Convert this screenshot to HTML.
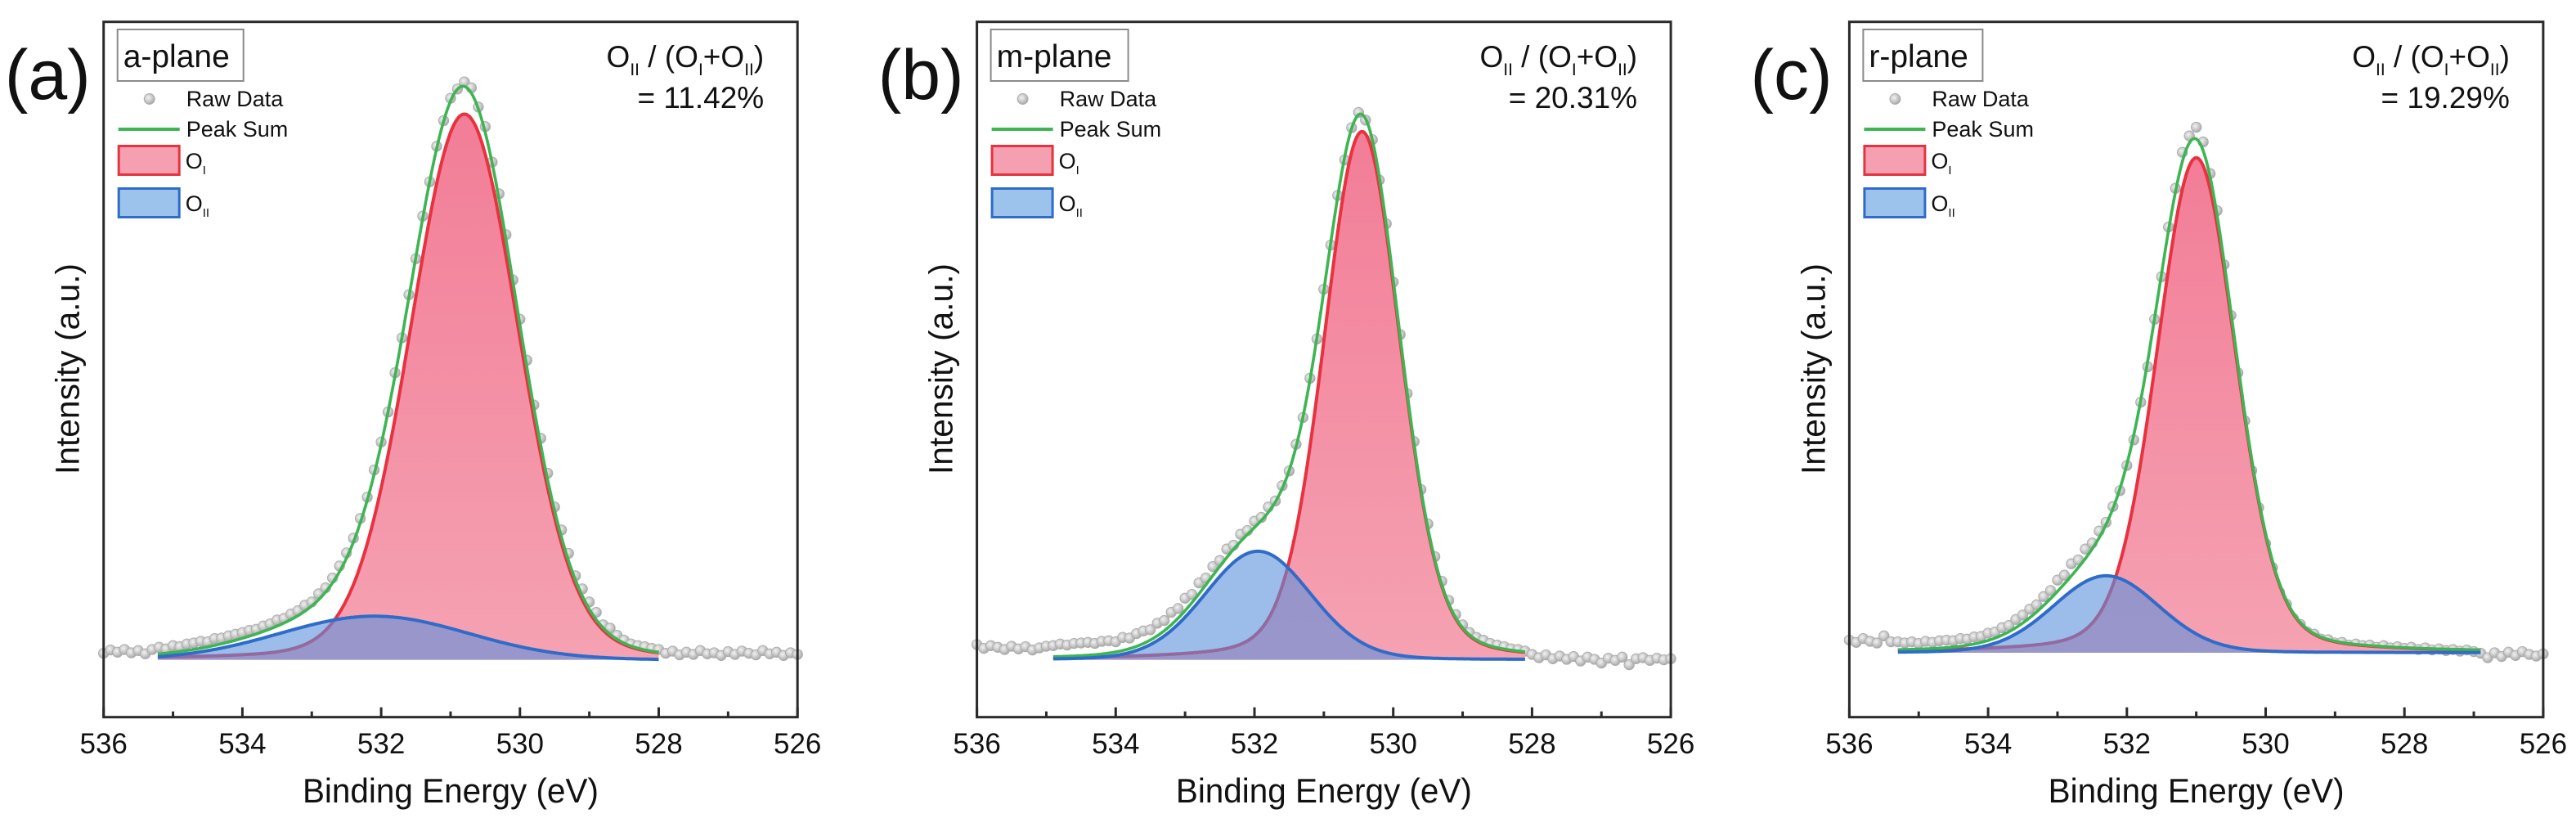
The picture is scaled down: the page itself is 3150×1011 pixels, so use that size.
<!DOCTYPE html>
<html>
<head>
<meta charset="utf-8">
<style>
  html, body { margin: 0; padding: 0; background: #ffffff; }
  svg { display: block; font-family: "Liberation Sans", sans-serif; }
</style>
</head>
<body>
<svg id="fig" width="3150" height="1011" viewBox="0 0 3150 1011" xmlns="http://www.w3.org/2000/svg">
  <defs>
    <linearGradient id="pinkGrad" x1="0" y1="0" x2="0" y2="1">
      <stop offset="0" stop-color="#f27d97"/>
      <stop offset="1" stop-color="#f5a2b2"/>
    </linearGradient>
    <radialGradient id="dotGrad" cx="0.4" cy="0.38" r="0.65">
      <stop offset="0" stop-color="#f2f2f2"/>
      <stop offset="0.6" stop-color="#c6c6c6"/>
      <stop offset="1" stop-color="#a5a5a5"/>
    </radialGradient>
  </defs>
</svg>
<script>
// ---- data ----
const panelLetters = ["(a)", "(b)", "(c)"];
const planeNames = ["a-plane", "m-plane", "r-plane"];
const ratioLabels = ["= 11.42%", "= 20.31%", "= 19.29%"];
const xTickLabels = ["536", "534", "532", "530", "528", "526"];
const xTickValues = [536, 534, 532, 530, 528, 526];
const energyStart = 536.0;
const energyStep = 0.1;

const rawA = [1.2,1.8,1.4,1.9,1.3,1.7,1.1,1.9,
  2.3,2.0,2.6,2.4,2.9,3.1,3.4,3.3,3.9,4.0,
  4.4,4.7,5.0,5.4,5.6,6.2,6.6,7.3,7.6,8.4,
  9.0,10.0,10.6,12.1,13.2,15.0,17.2,19.6,22.3,25.9,
  29.8,34.8,39.9,45.4,52.6,59.0,66.9,73.5,81.3,87.6,
  94.1,98.8,102.9,104.6,105.9,104.8,101.3,97.7,91.2,85.4,
  77.9,69.6,62.4,54.9,46.7,40.6,34.2,28.0,23.8,19.5,
  15.4,13.0,10.6,8.7,6.4,5.8,4.5,3.6,2.9,2.6,
  2.4,2.1,1.9,
  1.2,1.6,0.9,1.4,1.0,1.7,1.1,1.3,0.8,1.5,1.0,1.6,1.2,0.9,1.7,1.1,1.4,0.8,1.3,1.0];

const rawB = [2.8,2.1,2.6,2.3,1.9,2.5,2.0,2.4,1.8,2.2,2.5,
  2.6,2.9,2.7,3.0,3.1,3.2,3.0,3.4,3.5,3.3,
  4.1,4.0,4.8,5.3,5.5,6.7,7.2,8.7,9.4,11.3,
  12.0,14.1,15.0,17.1,18.2,20.3,21.0,23.0,23.7,25.4,
  26.1,28.0,29.1,31.9,34.6,39.5,44.4,51.6,58.8,67.9,
  76.0,85.1,91.6,97.5,100.3,98.9,95.3,87.9,79.9,69.2,
  59.6,48.8,40.0,31.2,24.9,18.9,14.4,10.9,8.3,6.4,
  5.0,4.1,3.6,3.0,2.7,2.4,2.0,1.9,1.6,1.0,
  0.4,0.9,0.2,0.7,0.1,0.6,-0.2,0.5,0.1,-0.6,0.3,-0.1,0.5,-0.9,0.2,0.4,-0.1,0.3,0.0,0.2];

const rawC = [3.6,3.2,3.9,3.4,3.1,4.4,3.3,
  3.3,3.1,3.3,3.0,3.4,3.2,3.5,3.6,3.5,3.9,
  3.8,4.2,4.3,4.9,5.1,5.9,6.3,7.4,8.2,9.3,
  10.1,11.6,12.7,14.6,15.5,17.6,18.3,20.3,21.4,23.6,
  25.2,28.1,31.0,35.6,40.3,47.2,53.7,62.4,70.2,79.3,
  86.4,93.0,96.0,97.6,94.9,89.1,82.3,72.4,63.1,52.6,
  43.8,34.7,27.9,21.3,16.9,12.4,10.2,7.6,6.5,5.1,
  4.7,3.8,3.7,3.1,3.2,2.7,2.9,2.6,2.7,2.3,
  2.6,2.2,2.4,2.1,
  2.3,1.9,2.2,1.8,2.0,1.7,1.9,1.6,1.8,1.5,1.2,0.4,1.3,0.6,1.4,0.8,1.5,1.0,0.7,1.1];

const oICenter = [530.80, 530.45, 531.00];
const oIHeight = [100.0, 96.8, 90.7];
const oIFwhm = [1.84, 1.30, 1.35];
const oIMix = [0.12, 0.20, 0.20];
const oIICenter = [532.10, 531.95, 532.30];
const oIIHeight = [8.0, 19.9, 14.1];
const oIIFwhm = [3.2, 1.8, 1.8];
const oIIMix = [0.0, 0.1, 0.1];
const baselines = [0.0, 0.0, 1.3];
const fitStart = [535.22, 534.90, 535.30];
const fitEnd = [528.00, 528.10, 526.90];

// ---- layout ----
const NS = "http://www.w3.org/2000/svg";
const svg = document.getElementById("fig");
const frameLefts = [126.7, 1194.6, 2261.4];
const frameW = 848.5;
const frameTop = 26.7, frameBottom = 876.7;
const xMin = 526, xMax = 536;
const yMin = -10.5, yMax = 116.9;

function mk(tag, attrs, parent) {
  const e = document.createElementNS(NS, tag);
  for (const k in attrs) e.setAttribute(k, attrs[k]);
  (parent || svg).appendChild(e);
  return e;
}
function pv(x, c, h, f, m) {
  const d = x - c;
  const g = Math.exp(-4 * Math.LN2 * d * d / (f * f));
  const l = 1 / (1 + 4 * d * d / (f * f));
  return h * ((1 - m) * g + m * l);
}

function drawPanel(p, raw) {
  const L = frameLefts[p];
  const sx = v => L + (xMax - v) / (xMax - xMin) * frameW;
  const sy = v => frameBottom - (v - yMin) / (yMax - yMin) * (frameBottom - frameTop);
  const g = mk("g", {});
  
  

  const rawPts = raw.map((v, i) => [energyStart - i * energyStep, v]);
  const leftSeg = rawPts.filter(q => q[0] >= fitStart[p] - 0.05);
  const rightSeg = rawPts.filter(q => q[0] <= fitEnd[p] + 0.05);
  [leftSeg, rightSeg].forEach((seg, si) => {
    if (seg.length < 2) return;
    const pl = mk("polyline", {
      points: seg.map(q => sx(q[0]).toFixed(1) + "," + sy(q[1]).toFixed(1)).join(" "),
      fill: "none", stroke: "#3b74c6", "stroke-width": 2.4, "stroke-linejoin": "round"
    }, g);
    
    
  });

  rawPts.forEach(q => {
    const c = mk("circle", { cx: sx(q[0]).toFixed(1), cy: sy(q[1]).toFixed(1), r: 6.2,
      fill: "url(#dotGrad)", stroke: "#aaaaaa", "stroke-width": 0.9 }, g);
    
    
  });

  const xs = [];
  for (let x = fitStart[p]; x >= fitEnd[p] - 1e-9; x -= 0.02) xs.push(x);
  const b0 = baselines[p];
  const oI = xs.map(x => pv(x, oICenter[p], oIHeight[p], oIFwhm[p], oIMix[p]));
  const oII = xs.map(x => pv(x, oIICenter[p], oIIHeight[p], oIIFwhm[p], oIIMix[p]));
  const line = arr => xs.map((x, i) => sx(x).toFixed(1) + "," + sy(b0 + arr[i]).toFixed(1)).join(" ");
  const area = arr => "M" + sx(xs[0]).toFixed(1) + "," + sy(b0).toFixed(1) + " L" + line(arr).replace(/ /g, " L") +
    " L" + sx(xs[xs.length - 1]).toFixed(1) + "," + sy(b0).toFixed(1) + " Z";

  const f1 = mk("path", { d: area(oI), fill: "url(#pinkGrad)" }, g);
  
  
  const l1 = mk("polyline", { points: line(oI), fill: "none", stroke: "#e8323f", "stroke-width": 4, "stroke-linejoin": "round" }, g);
  
  
  const f2 = mk("path", { d: area(oII), fill: "#5a8fdc", "fill-opacity": 0.6 }, g);
  
  
  const sum = oI.map((v, i) => v + oII[i]);
  const ls = mk("polyline", { points: line(sum), fill: "none", stroke: "#3db552", "stroke-width": 3.6, "stroke-linejoin": "round" }, g);
  
  
  const l2 = mk("polyline", { points: line(oII), fill: "none", stroke: "#2f6cc9", "stroke-width": 4, "stroke-linejoin": "round" }, g);
  
  

  const fr = mk("rect", { x: L, y: frameTop, width: frameW, height: frameBottom - frameTop, fill: "none", stroke: "#2a2a2a", "stroke-width": 3 }, g);
  
  

  for (let v = 536; v >= 526; v -= 1) {
    const major = (v % 2 === 0);
    const t = mk("line", { x1: sx(v), x2: sx(v), y1: frameBottom, y2: frameBottom - (major ? 12 : 7), stroke: "#2a2a2a", "stroke-width": 3 }, g);
    
    
  }
  xTickValues.forEach((v, i) => {
    const t = mk("text", { x: sx(v), y: 921, "font-size": 35, "text-anchor": "middle", fill: "#111" }, g);
    t.textContent = xTickLabels[i];
    
    
  });

  const xt = mk("text", { x: L + frameW / 2, y: 981, "font-size": 42, "text-anchor": "middle", fill: "#111", textLength: 362, lengthAdjust: "spacingAndGlyphs" }, g);
  xt.textContent = "Binding Energy (eV)";
  
  
  const yx = L - 30, yc = 451;
  const yt = mk("text", { x: yx, y: yc, "font-size": 41, "text-anchor": "middle", fill: "#111", transform: "rotate(-90 " + yx + " " + yc + ")", textLength: 258, lengthAdjust: "spacingAndGlyphs" }, g);
  yt.textContent = "Intensity (a.u.)";
  
  

  const pl = mk("text", { x: L - 121, y: 121, "font-size": 86, fill: "#111" }, g);
  pl.textContent = panelLetters[p];
  
  

  const bx = L + 17;
  const nb = mk("rect", { x: bx, y: 36, width: p === 1 ? 168 : (p === 2 ? 146 : 154), height: 63, fill: "#fff", stroke: "#8a8a8a", "stroke-width": 2 }, g);
  
  
  const nt = mk("text", { x: bx + 7, y: 82, "font-size": 39, fill: "#111" }, g);
  nt.textContent = planeNames[p];
  
  

  const lg = mk("g", {}, g);
  
  
  const ld = mk("circle", { cx: bx + 39, cy: 121, r: 6.5, fill: "url(#dotGrad)", stroke: "#aaaaaa", "stroke-width": 0.9 }, lg);
  
  
  const lt1 = mk("text", { x: bx + 84, y: 130, "font-size": 27, fill: "#111" }, lg);
  lt1.textContent = "Raw Data";
  
  
  const lgl = mk("line", { x1: bx + 1, x2: bx + 76, y1: 158, y2: 158, stroke: "#3db552", "stroke-width": 4 }, lg);
  
  
  const lt2 = mk("text", { x: bx + 84, y: 167, "font-size": 27, fill: "#111" }, lg);
  lt2.textContent = "Peak Sum";
  
  
  const sw1 = mk("rect", { x: bx + 1.5, y: 178.5, width: 74, height: 35, fill: "#f4a0b1", stroke: "#e8323f", "stroke-width": 3 }, lg);
  
  
  const lt3 = mk("text", { x: bx + 83, y: 206, "font-size": 27, fill: "#111" }, lg);
  lt3.innerHTML = 'O<tspan font-size="15" dy="7">I</tspan>';
  
  
  const sw2 = mk("rect", { x: bx + 1.5, y: 230.5, width: 74, height: 35, fill: "#9cc3ec", stroke: "#2f6cc9", "stroke-width": 3 }, lg);
  
  
  const lt4 = mk("text", { x: bx + 83, y: 258, "font-size": 27, fill: "#111" }, lg);
  lt4.innerHTML = 'O<tspan font-size="15" dy="7">II</tspan>';
  
  

  const rx = L + frameW - 41;
  const r1 = mk("text", { x: rx, y: 82, "font-size": 37, "text-anchor": "end", fill: "#111" }, g);
  r1.innerHTML = 'O<tspan font-size="21" dy="10">II</tspan><tspan dy="-10"> / (O</tspan><tspan font-size="21" dy="10">I</tspan><tspan dy="-10">+O</tspan><tspan font-size="21" dy="10">II</tspan><tspan dy="-10">)</tspan>';
  
  
  const r2 = mk("text", { x: rx, y: 132, "font-size": 37, "text-anchor": "end", fill: "#111" }, g);
  r2.textContent = ratioLabels[p];
  
  
}

drawPanel(0, rawA);
drawPanel(1, rawB);
drawPanel(2, rawC);
</script>
</body>
</html>
